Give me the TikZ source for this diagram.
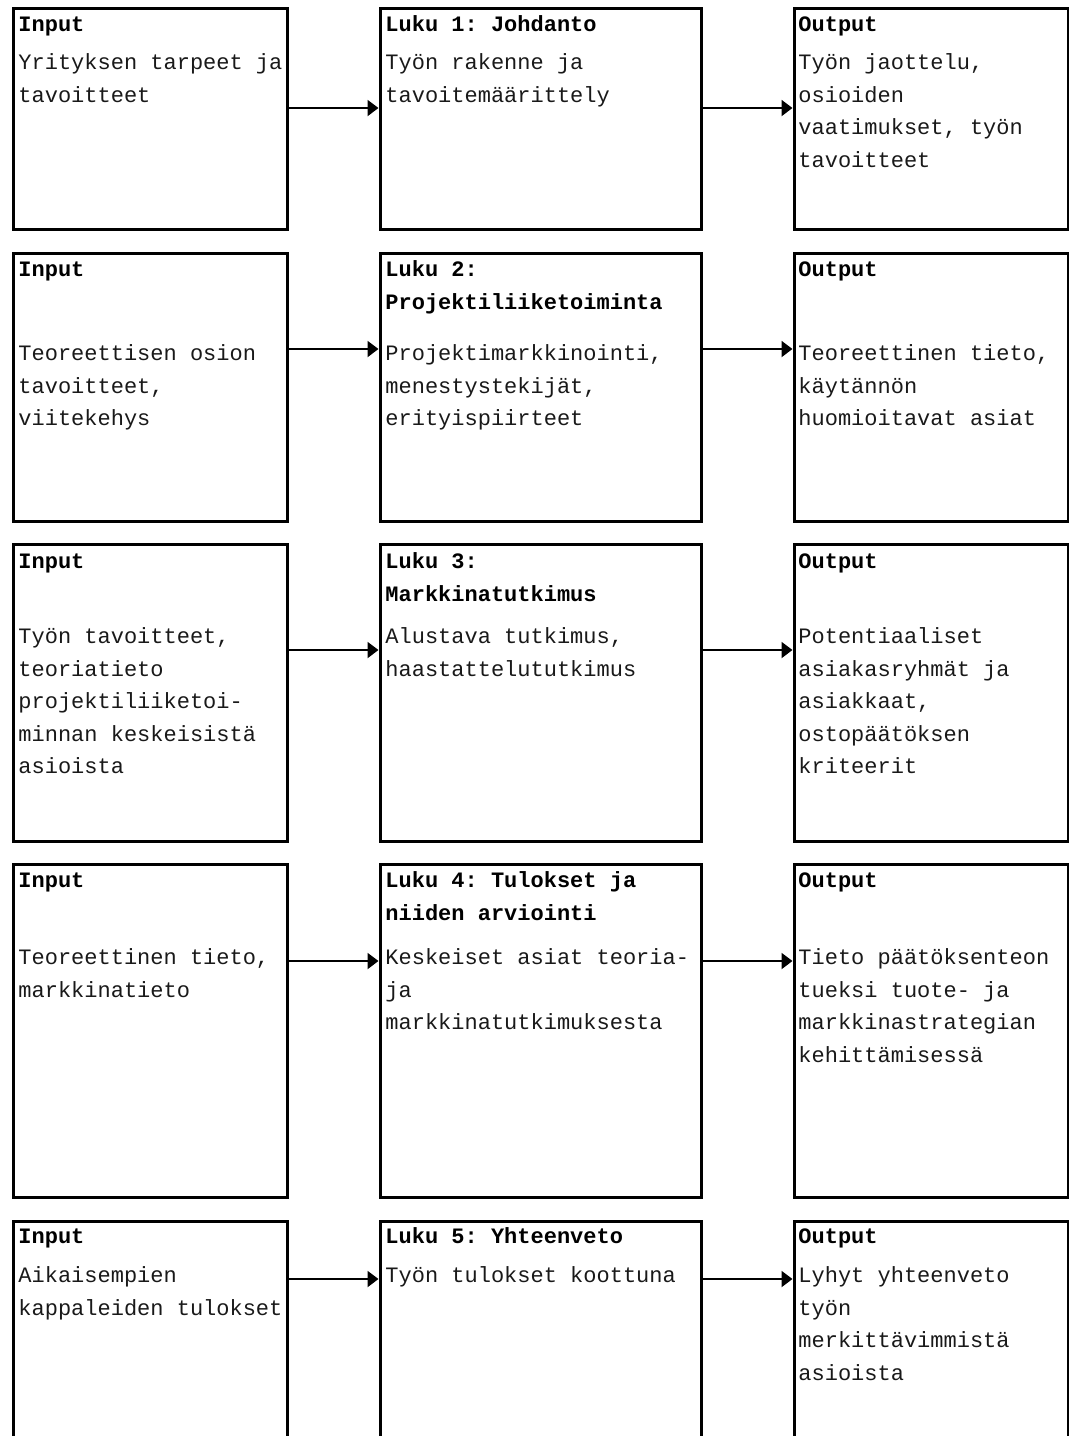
\documentclass[tikz,border=0pt]{standalone}
\usepackage{fontspec}
\setmonofont{Liberation Mono}
\usetikzlibrary{arrows.meta,fit}

% lines of a box text, baseline at the first line
\newcommand{\rows}[1]{\begin{tabular}[t]{@{}l@{}}#1\end{tabular}}

\tikzset{
  box/.style={draw, line width=1.5pt, inner sep=0pt},
  head/.style={anchor=base west, inner sep=0pt,
    font=\ttfamily\bfseries\fontsize{11pt}{16.25pt}\selectfont},
  txt/.style={anchor=base west, inner sep=0pt, text=black!90,
    font=\ttfamily\fontsize{11pt}{16.25pt}\selectfont},
  link/.style={-{Triangle[length=5.5pt,width=8pt]}, line width=1pt}
}

\begin{document}
\begin{tikzpicture}[x=0.5pt,y=-0.5pt]
  \useasboundingbox (0,0) rectangle (1069,1436);
  \clip (0,0) rectangle (1069,1436);

  % boxes
  \foreach \r/\t/\b in {1/8/229, 2/253/521, 3/544/841, 4/864/1197, 5/1221/1460} {
    \node[box, fit={(13,\t) (287,\b)}] (in\r) {};
    \node[box, fit={(380,\t) (701,\b)}] (ch\r) {};
    \node[box, fit={(794,\t) (1068,\b)}] (out\r) {};
  }

  % row 1
  \node[head] (in1h) at (18,31.5) {Input};
  \node[txt] (in1t) at (18,69.5) {\rows{Yrityksen tarpeet ja\\tavoitteet}};
  \node[head] (ch1h) at (385,31.5) {Luku 1: Johdanto};
  \node[txt] (ch1t) at (385,69.5) {\rows{Työn rakenne ja\\tavoitemäärittely}};
  \node[head] (out1h) at (798,31.5) {Output};
  \node[txt] (out1t) at (798,69.5) {\rows{Työn jaottelu,\\osioiden\\vaatimukset, työn\\tavoitteet}};

  % row 2
  \node[head] (in2h) at (18,276.5) {Input};
  \node[txt] (in2t) at (18,360.5) {\rows{Teoreettisen osion\\tavoitteet,\\viitekehys}};
  \node[head] (ch2h) at (385,276.5) {\rows{Luku 2:\\Projektiliiketoiminta}};
  \node[txt] (ch2t) at (385,360.5) {\rows{Projektimarkkinointi,\\menestystekijät,\\erityispiirteet}};
  \node[head] (out2h) at (798,276.5) {Output};
  \node[txt] (out2t) at (798,360.5) {\rows{Teoreettinen tieto,\\käytännön\\huomioitavat asiat}};

  % row 3
  \node[head] (in3h) at (18,568.5) {Input};
  \node[txt] (in3t) at (18,643.5) {\rows{Työn tavoitteet,\\teoriatieto\\projektiliiketoi-\\minnan keskeisistä\\asioista}};
  \node[head] (ch3h) at (385,568.5) {\rows{Luku 3:\\Markkinatutkimus}};
  \node[txt] (ch3t) at (385,643.5) {\rows{Alustava tutkimus,\\haastattelututkimus}};
  \node[head] (out3h) at (798,568.5) {Output};
  \node[txt] (out3t) at (798,643.5) {\rows{Potentiaaliset\\asiakasryhmät ja\\asiakkaat,\\ostopäätöksen\\kriteerit}};

  % row 4
  \node[head] (in4h) at (18,887.5) {Input};
  \node[txt] (in4t) at (18,964.5) {\rows{Teoreettinen tieto,\\markkinatieto}};
  \node[head] (ch4h) at (385,887.5) {\rows{Luku 4: Tulokset ja\\niiden arviointi}};
  \node[txt] (ch4t) at (385,964.5) {\rows{Keskeiset asiat teoria-\\ja\\markkinatutkimuksesta}};
  \node[head] (out4h) at (798,887.5) {Output};
  \node[txt] (out4t) at (798,964.5) {\rows{Tieto päätöksenteon\\tueksi tuote- ja\\markkinastrategian\\kehittämisessä}};

  % row 5
  \node[head] (in5h) at (18,1243.5) {Input};
  \node[txt] (in5t) at (18,1282.5) {\rows{Aikaisempien\\kappaleiden tulokset}};
  \node[head] (ch5h) at (385,1243.5) {Luku 5: Yhteenveto};
  \node[txt] (ch5t) at (385,1282.5) {Työn tulokset koottuna};
  \node[head] (out5h) at (798,1243.5) {Output};
  \node[txt] (out5t) at (798,1282.5) {\rows{Lyhyt yhteenveto\\työn\\merkittävimmistä\\asioista}};

  % arrows
  \foreach \r/\y in {1/108, 2/349, 3/650, 4/961, 5/1279} {
    \coordinate (a\r) at (0,\y);
    \draw[link] (in\r.east |- a\r) -- (ch\r.west |- a\r);
    \draw[link] (ch\r.east |- a\r) -- (out\r.west |- a\r);
  }
\end{tikzpicture}
\end{document}
